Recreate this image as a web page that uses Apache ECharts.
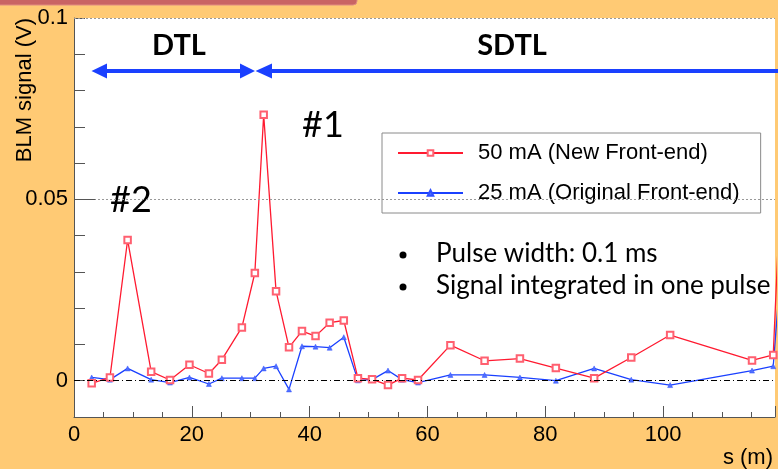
<!DOCTYPE html>
<html>
<head>
<meta charset="utf-8">
<script src="https://cdn.jsdelivr.net/npm/echarts@6/dist/echarts.min.js"></script>
<style>
html,body{margin:0;padding:0;background:#FFCA74;}
#c{width:778px;height:469px;}
</style>
</head>
<body>
<div id="c"></div>
<script>
// Position along the linac, s (m)
const positions = [3.0, 6.1, 9.1, 13.1, 16.3, 19.6, 22.9, 25.1, 28.5, 30.7, 32.2, 34.3, 36.5, 38.7, 41.0, 43.4, 45.8, 48.2, 50.6, 53.3, 55.7, 58.4, 63.9, 69.7, 75.7, 81.8, 88.3, 94.6, 101.2, 115.1, 118.7, 119.6];
// BLM signal (V), 50 mA (New Front-end)
const signal50mA = [-0.0007, 0.0009, 0.0388, 0.0025, 0.0002, 0.0044, 0.0020, 0.0058, 0.0147, 0.0297, 0.0733, 0.0247, 0.0092, 0.0137, 0.0123, 0.0160, 0.0166, 0.0007, 0.0004, -0.0012, 0.0007, 0.0002, 0.0098, 0.0055, 0.0061, 0.0035, 0.0007, 0.0064, 0.0126, 0.0056, 0.0071, 0.0400];
// BLM signal (V), 25 mA (Original Front-end)
const signal25mA = [0.0009, 0.0003, 0.0034, 0.0003, -0.0005, 0.0009, -0.0009, 0.0007, 0.0007, 0.0007, 0.0034, 0.0040, -0.0024, 0.0095, 0.0094, 0.0091, 0.0120, 0.0001, 0.0003, 0.0028, 0.0003, -0.0005, 0.0016, 0.0016, 0.0009, 0.0000, 0.0034, 0.0003, -0.0012, 0.0028, 0.0040, 0.0230];
const seriesNames = ['50 mA (New Front-end)', '25 mA (Original Front-end)'];
const xTickLabels = [0, 20, 40, 60, 80, 100];
const yTickLabels = [0, 0.05, 0.1];

const toPairs = (xs, ys) => xs.map((x, i) => [x, ys[i]]);
const chart = echarts.init(document.getElementById('c'), null, {renderer: 'canvas'});
const HEL = '"Liberation Sans", Arial, Helvetica, sans-serif';
const CAL = 'Lato, "Open Sans", sans-serif';
const BLUE = '#1a40ff';
const RED = '#ff1a30';

chart.setOption({
  backgroundColor: '#FFCA74',
  animation: false,
  grid: {left: 74, top: 18, right: 0, bottom: 50, backgroundColor: '#ffffff', show: true, borderWidth: 0},
  legend: {
    orient: 'vertical', left: 382, top: 133,
    backgroundColor: '#ffffff', borderColor: '#8a8a8a', borderWidth: 1,
    padding: [8, 21, 8, 15], itemGap: 16, itemWidth: 65, itemHeight: 7,
    textStyle: {fontFamily: HEL, fontSize: 22, color: '#000', lineHeight: 24, padding: [0, 0, 0, 10]},
    data: seriesNames
  },
  xAxis: {
    type: 'value', min: 0, max: 119, interval: 20,
    axisLine: {show: true, onZero: false, lineStyle: {color: '#555', width: 1}},
    axisTick: {show: true, inside: true, length: 11, lineStyle: {color: '#555'}},
    minorTick: {show: true, splitNumber: 4, length: 5, lineStyle: {color: '#555'}},
    splitLine: {show: false},
    axisLabel: {fontFamily: HEL, fontSize: 22, color: '#000', margin: 7,
      formatter: v => xTickLabels.indexOf(Math.round(v)) >= 0 && Math.abs(v - Math.round(v)) < 1e-6 ? String(Math.round(v)) : ''},
    name: 's (m)', nameLocation: 'end', nameGap: 0,
    nameTextStyle: {fontFamily: HEL, fontSize: 22, color: '#000', align: 'right', verticalAlign: 'top', padding: [30, 2, 0, 0]}
  },
  yAxis: {
    type: 'value', min: -0.01, max: 0.1, interval: 0.01,
    axisLine: {show: true, onZero: false, lineStyle: {color: '#555', width: 1}},
    axisTick: {show: true, inside: true, length: 11, lineStyle: {color: '#555'}},
    splitLine: {show: false},
    axisLabel: {fontFamily: HEL, fontSize: 22, color: '#000', margin: 6,
      formatter: v => {
        const m = yTickLabels.find(t => Math.abs(t - v) < 1e-6);
        return m === undefined ? '' : String(m);
      }},
  },
  graphic: [
    {type: 'rect', shape: {x: -10, y: -10, width: 367, height: 15, r: 4}, style: {fill: '#c96464', stroke: '#e08a80', lineWidth: 1}, z: 100},
    {type: 'text', left: 14, top: 18, rotation: Math.PI / 2, style: {text: 'BLM signal (V)', font: '22px ' + HEL, fill: '#000'}},
    {type: 'text', x: 179, y: 46, style: {text: 'DTL', font: 'bold 29px ' + CAL, fill: '#000', align: 'center', verticalAlign: 'middle'}},
    {type: 'text', x: 512, y: 46, style: {text: 'SDTL', font: 'bold 29px ' + CAL, fill: '#000', align: 'center', verticalAlign: 'middle'}},
    {type: 'text', x: 323, y: 125, style: {text: '#1', font: '36px ' + CAL, fill: '#000', align: 'center', verticalAlign: 'middle'}},
    {type: 'text', x: 131, y: 200, style: {text: '#2', font: '36px ' + CAL, fill: '#000', align: 'center', verticalAlign: 'middle'}},
    {type: 'line', shape: {x1: 100, y1: 71, x2: 246, y2: 71}, style: {stroke: BLUE, lineWidth: 4}},
    {type: 'polygon', shape: {points: [[91.5, 71], [107, 63.5], [107, 78.5]]}, style: {fill: BLUE}},
    {type: 'polygon', shape: {points: [[255, 71], [240, 63.5], [240, 78.5]]}, style: {fill: BLUE}},
    {type: 'line', shape: {x1: 265, y1: 71, x2: 790, y2: 71}, style: {stroke: BLUE, lineWidth: 4}},
    {type: 'polygon', shape: {points: [[255.5, 71], [272, 63.5], [272, 78.5]]}, style: {fill: BLUE}},
    {type: 'circle', shape: {cx: 403, cy: 255, r: 3.5}, style: {fill: '#000'}},
    {type: 'text', x: 436, y: 254, style: {text: 'Pulse width: 0.1 ms', font: '26px ' + CAL, fill: '#000', verticalAlign: 'middle'}},
    {type: 'circle', shape: {cx: 403, cy: 287, r: 3.5}, style: {fill: '#000'}},
    {type: 'text', x: 436, y: 286, style: {text: 'Signal integrated in one pulse', font: '26px ' + CAL, fill: '#000', verticalAlign: 'middle'}}
  ],
  series: [
    {
      name: seriesNames[0], type: 'line', data: toPairs(positions, signal50mA),
      symbol: 'emptyRect', symbolSize: 6.5, clip: true,
      lineStyle: {color: RED, width: 1.3},
      itemStyle: {color: '#ff6070', borderColor: '#ff6070', borderWidth: 1},
      z: 3,
      markLine: {
        silent: true, symbol: ['none', 'none'], label: {show: false},
        data: [
          {yAxis: 0.1, lineStyle: {color: '#999', type: [2, 2], width: 1}},
          {yAxis: 0.05, lineStyle: {color: '#999', type: [2, 2], width: 1}},
          {yAxis: 0, lineStyle: {color: '#000', type: [6, 3, 1, 3], width: 1}},
          [{coord: [0, 0.05], lineStyle: {color: '#555', type: 'solid', width: 1}}, {coord: [3.6, 0.05]}]
        ]
      }
    },
    {
      name: seriesNames[1], type: 'line', data: toPairs(positions, signal25mA),
      symbol: 'triangle', symbolSize: 5, clip: true,
      lineStyle: {color: BLUE, width: 1.3},
      itemStyle: {color: '#5070ff', borderColor: '#3050ff', borderWidth: 0.5},
      z: 2
    }
  ]
});
</script>
</body>
</html>
